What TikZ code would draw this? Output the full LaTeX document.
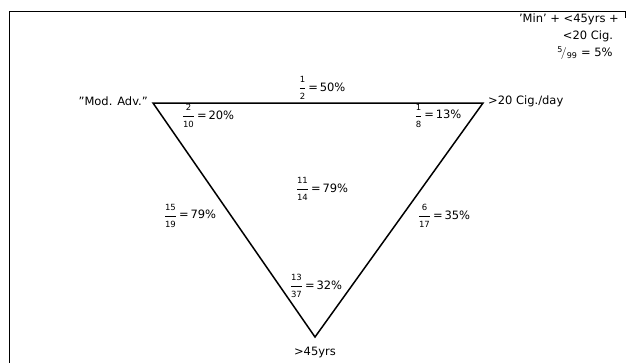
\documentclass[tikz,border=0pt]{standalone}
\usepackage{fontspec}
\usepackage{amsmath}
\setmainfont{DejaVu Sans}
\newcommand{\fr}[2]{$\dfrac{\mbox{\fontsize{8.5}{9}\selectfont #1}}{\mbox{\fontsize{8.5}{9}\selectfont #2}}$}
\begin{document}
\begin{tikzpicture}[x=1pt,y=-1pt,
  lbl/.style={inner sep=1pt,font=\fontsize{11.5}{13}\selectfont},
  edge/.style={line width=1.5pt},
  frameline/.style={line width=1pt}]
\useasboundingbox (0,0) rectangle (629,362);
% frame
\coordinate (f1) at (9,363);
\coordinate (f2) at (9,11);
\coordinate (f3) at (625,11);
\coordinate (f4) at (625,18);
\draw[frameline] (f1) -- (f2) -- (f3) -- (f4);
% triangle vertices
\coordinate (A) at (153,103);
\coordinate (B) at (483,103);
\coordinate (C) at (315,337);
\draw[edge,line join=miter] (A) -- (B) -- (C) -- cycle;
% labels
\node[lbl,anchor=east] (min) at (620,19) {'Min' + <45yrs +};
\node[lbl] (cig) at (588,36) {<20 Cig.};
\node[lbl] (r599) at (585,53) {$^{\mbox{\footnotesize 5}}\!/_{\mbox{\footnotesize 99}}$ = 5\%};
\node[lbl] (top) at (322,88) {\fr{1}{2}\,=\,50\%};
\node[lbl,anchor=east] (mod) at (149,101) {"Mod. Adv."};
\node[lbl,anchor=west] (day) at (487,101) {>20 Cig./day};
\node[lbl] (a) at (208,116) {\fr{2}{10}\,=\,20\%};
\node[lbl] (b) at (438,116) {\fr{1}{8}\,=\,13\%};
\node[lbl] (mid) at (322,189) {\fr{11}{14}\,=\,79\%};
\node[lbl] (l) at (190,216) {\fr{15}{19}\,=\,79\%};
\node[lbl] (r) at (444,216) {\fr{6}{17}\,=\,35\%};
\node[lbl] (bot) at (316,286) {\fr{13}{37}\,=\,32\%};
\node[lbl] (old) at (315,352) {>45yrs};
\end{tikzpicture}
\end{document}
